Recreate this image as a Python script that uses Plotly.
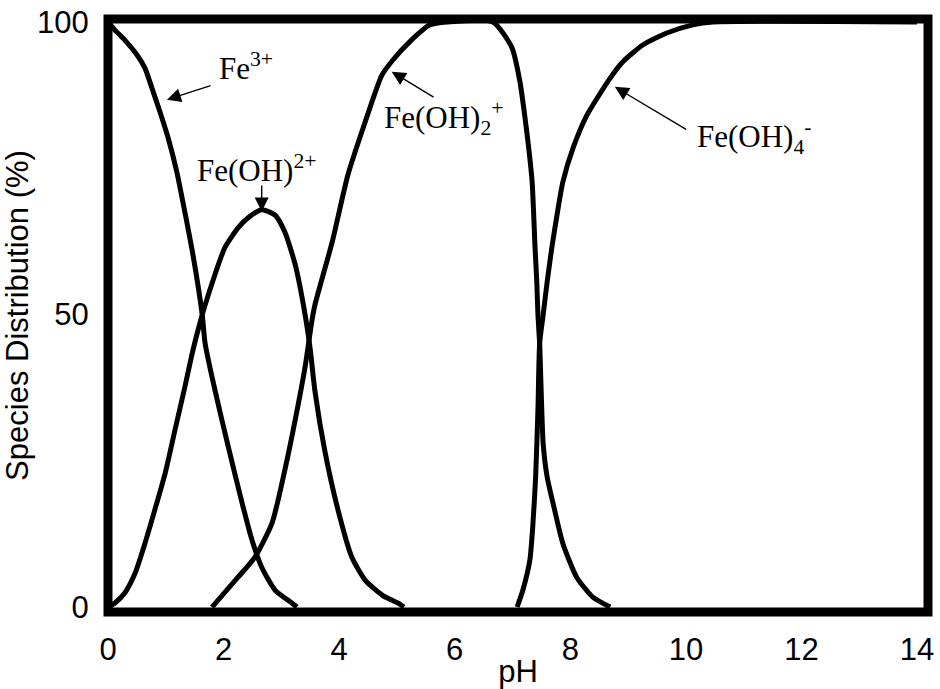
import plotly.graph_objects as go

# ---- data (pH, % of total Fe) ----
fe3_ph = [0.0, 0.12, 0.29, 0.50, 0.64, 0.76, 0.90, 1.04, 1.19, 1.33, 1.47, 1.63,
          1.68, 1.80, 1.97, 2.15, 2.32, 2.49, 2.66, 2.89, 3.18, 3.27]
fe3_pct = [100, 98.6, 96.9, 94.4, 92.1, 88.7, 84.6, 80.2, 74.4, 67.5, 60.2, 50.0,
           45.1, 39.3, 32.0, 24.6, 17.8, 11.5, 6.8, 2.9, 0.7, 0]

feoh_ph = [0.0, 0.12, 0.29, 0.47, 0.64, 0.81, 0.99, 1.16, 1.33, 1.47, 1.59, 1.68,
           1.85, 2.02, 2.25, 2.42, 2.66, 2.89, 3.06, 3.24, 3.41, 3.50, 3.58, 3.75,
           3.98, 4.22, 4.45, 4.75, 5.05, 5.12]
feoh_pct = [0, 0.7, 2.4, 5.8, 10.9, 16.6, 22.9, 30.3, 37.6, 43.9, 48.5, 51.6,
            56.8, 61.4, 64.8, 66.5, 67.9, 67.0, 64.1, 58.5, 50.0, 44.0, 37.0, 26.8,
            16.6, 8.5, 4.6, 2.0, 0.5, 0]

feoh2_ph = [1.80, 2.25, 2.54, 2.84, 3.06, 3.24, 3.41, 3.53, 3.58, 3.88, 4.15, 4.45,
            4.74, 4.93, 5.22, 5.57, 5.87, 6.66, 6.99, 7.13, 7.21, 7.28, 7.34, 7.39,
            7.42, 7.44, 7.47, 7.53, 7.60, 7.70, 7.87, 8.11, 8.39, 8.69]
feoh2_pct = [0, 5.1, 8.5, 14.4, 23.4, 32.0, 41.0, 49.0, 51.6, 62.4, 73.8, 82.9,
             90.9, 93.5, 96.6, 99.5, 100, 100, 95.6, 89.7, 84.1, 78.5, 72.6, 61.4,
             55.6, 49.9, 45.0, 28.0, 22.2, 17.8, 10.9, 5.1, 1.7, 0]

feoh4_ph = [7.08, 7.18, 7.30, 7.35, 7.40, 7.44, 7.47, 7.53, 7.60, 7.68, 7.77, 7.87,
            8.05, 8.29, 8.69, 8.91, 9.26, 9.67, 10.12, 10.47, 14.0]
feoh4_pct = [0, 2.9, 8.0, 13.7, 22.2, 33.7, 45.1, 49.9, 55.6, 61.4, 67.0, 72.6,
             78.5, 84.1, 90.4, 93.2, 96.1, 98.1, 99.5, 100, 100]

x_ticks = [0, 2, 4, 6, 8, 10, 12, 14]
y_ticks = [0, 50, 100]

species = [(fe3_ph, fe3_pct), (feoh_ph, feoh_pct), (feoh2_ph, feoh2_pct), (feoh4_ph, feoh4_pct)]

fig = go.Figure()
for xs, ys in species:
    fig.add_trace(go.Scatter(x=xs, y=ys, mode="lines",
                             line=dict(color="black", width=5, shape="spline", smoothing=0.6),
                             showlegend=False, hoverinfo="skip"))

serif = dict(family="Liberation Serif, Times New Roman, serif", size=31, color="black")
labels = [
    ("Fe<sup>3+</sup>", 1.89, 92.3),
    ("Fe(OH)<sup>2+</sup>", 1.51, 75.0),
    ("Fe(OH)<sub>2</sub><sup>+</sup>", 4.74, 83.6),
    ("Fe(OH)<sub>4</sub><sup>-</sup>", 10.16, 80.3),
]
for txt, x, y in labels:
    fig.add_annotation(x=x, y=y, text=txt, showarrow=False, xanchor="left",
                       yanchor="middle", font=serif)

arrows = [  # tip (x, y), tail (ax, ay)
    (1.02, 86.7, 1.80, 89.2),
    (2.66, 67.6, 2.66, 72.3),
    (4.91, 91.5, 5.66, 87.0),
    (8.77, 88.9, 10.03, 81.5),
]
for x, y, ax, ay in arrows:
    fig.add_annotation(x=x, y=y, ax=ax, ay=ay, axref="x", ayref="y", text="",
                       showarrow=True, arrowhead=2, arrowsize=2, arrowwidth=1.4,
                       arrowcolor="black")

fig.add_shape(type="rect", xref="paper", yref="paper", x0=0, x1=1, y0=0, y1=1,
              line=dict(color="black", width=9), layer="above")

sans = dict(family="Liberation Sans, Arial, sans-serif", size=31, color="black")
fig.update_layout(
    width=940, height=689,
    margin=dict(l=108, r=12, t=19, b=77, autoexpand=False),
    paper_bgcolor="white", plot_bgcolor="white",
    font=sans,
    xaxis=dict(range=[0, 14.19], tickvals=x_ticks, showgrid=False, zeroline=False,
               showline=False, ticks="outside", ticklen=10, tickcolor="rgba(0,0,0,0)",
               automargin=False, tickfont=sans,
               title=dict(text="pH", font=sans, standoff=0)),
    yaxis=dict(range=[-0.85, 100.5], tickvals=y_ticks, showgrid=False, zeroline=False,
               showline=False, ticks="outside", ticklen=12, tickcolor="rgba(0,0,0,0)",
               automargin=False, tickfont=sans,
               title=dict(text="Species Distribution (%)", font=sans, standoff=0)),
)

fig.write_html("out.html", config={"displayModeBar": False},
               post_script="document.body.style.margin='0px';document.body.style.overflow='hidden';")
